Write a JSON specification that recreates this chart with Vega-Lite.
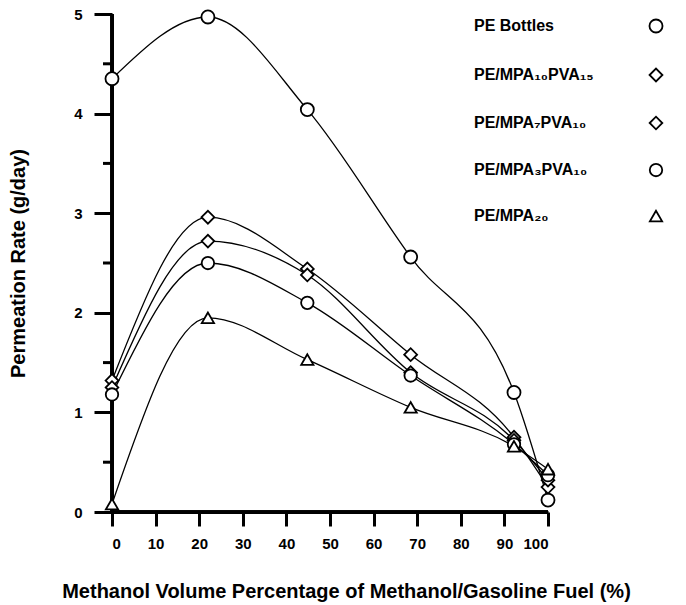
{
  "$schema": "https://vega.github.io/schema/vega-lite/v6.json",
  "width": 436,
  "height": 498,
  "autosize": {"type": "none"},
  "padding": {"left": 112, "top": 14, "right": 138, "bottom": 93},
  "background": "white",
  "config": {
    "view": {"stroke": null},
    "font": "Liberation Sans",
    "axis": {"grid": false, "domain": true, "ticks": true, "domainColor": "black", "tickColor": "black", "labelColor": "black", "titleColor": "black", "labelFont": "Liberation Sans", "titleFont": "Liberation Sans", "labelFontWeight": "bold", "titleFontWeight": "bold", "labelFontSize": 15, "titleFontSize": 20}
  },
  "datasets": {
    "rates": [
      {"series": "PE Bottles", "x": 0, "y": 4.35},
      {"series": "PE Bottles", "x": 22, "y": 4.97},
      {"series": "PE Bottles", "x": 44.8, "y": 4.04},
      {"series": "PE Bottles", "x": 68.5, "y": 2.56},
      {"series": "PE Bottles", "x": 92.2, "y": 1.2},
      {"series": "PE Bottles", "x": 100, "y": 0.12},
      {"series": "PE/MPA₁₀PVA₁₅", "x": 0, "y": 1.32},
      {"series": "PE/MPA₁₀PVA₁₅", "x": 22, "y": 2.96},
      {"series": "PE/MPA₁₀PVA₁₅", "x": 44.8, "y": 2.44},
      {"series": "PE/MPA₁₀PVA₁₅", "x": 68.5, "y": 1.58},
      {"series": "PE/MPA₁₀PVA₁₅", "x": 92.2, "y": 0.75},
      {"series": "PE/MPA₁₀PVA₁₅", "x": 100, "y": 0.25},
      {"series": "PE/MPA₇PVA₁₀", "x": 0, "y": 1.25},
      {"series": "PE/MPA₇PVA₁₀", "x": 22, "y": 2.72},
      {"series": "PE/MPA₇PVA₁₀", "x": 44.8, "y": 2.38},
      {"series": "PE/MPA₇PVA₁₀", "x": 68.5, "y": 1.4},
      {"series": "PE/MPA₇PVA₁₀", "x": 92.2, "y": 0.72},
      {"series": "PE/MPA₇PVA₁₀", "x": 100, "y": 0.32},
      {"series": "PE/MPA₃PVA₁₀", "x": 0, "y": 1.18},
      {"series": "PE/MPA₃PVA₁₀", "x": 22, "y": 2.5},
      {"series": "PE/MPA₃PVA₁₀", "x": 44.8, "y": 2.1},
      {"series": "PE/MPA₃PVA₁₀", "x": 68.5, "y": 1.37},
      {"series": "PE/MPA₃PVA₁₀", "x": 92.2, "y": 0.68},
      {"series": "PE/MPA₃PVA₁₀", "x": 100, "y": 0.37},
      {"series": "PE/MPA₂₀", "x": 0, "y": 0.08},
      {"series": "PE/MPA₂₀", "x": 22, "y": 1.95},
      {"series": "PE/MPA₂₀", "x": 44.8, "y": 1.53},
      {"series": "PE/MPA₂₀", "x": 68.5, "y": 1.05},
      {"series": "PE/MPA₂₀", "x": 92.2, "y": 0.66},
      {"series": "PE/MPA₂₀", "x": 100, "y": 0.43}
    ],
    "minorTicks": [{"v": 0.5}, {"v": 1.5}, {"v": 2.5}, {"v": 3.5}, {"v": 4.5}]
  },
  "layer": [
    {
      "data": {"name": "rates"},
      "mark": {"type": "line", "interpolate": "monotone", "color": "black", "strokeWidth": 1.3},
      "encoding": {
        "x": {"field": "x", "type": "quantitative", "scale": {"domain": [0, 100], "nice": false},
          "axis": {"values": [0,10,20,30,40,50,60,70,80,90,100], "format": "d", "domain": true, "domainColor": "black", "domainWidth": 3, "ticks": true, "tickColor": "black", "tickWidth": 3, "tickSize": 14, "labelPadding": 10, "title": "Methanol Volume Percentage of Methanol/Gasoline Fuel (%)", "titleX": 234, "titleAlign": "center", "titlePadding": 30}},
        "y": {"field": "y", "type": "quantitative", "scale": {"domain": [0, 5], "nice": false},
          "axis": {"values": [0,1,2,3,4,5], "format": "d", "domain": true, "domainColor": "black", "domainWidth": 3, "ticks": true, "tickColor": "black", "tickWidth": 3, "tickSize": 18, "labelPadding": 12, "title": "Permeation Rate (g/day)", "titlePadding": 45}},
        "detail": {"field": "series"}
      }
    },
    {
      "data": {"name": "minorTicks"},
      "mark": {"type": "rule", "color": "black", "strokeWidth": 3, "x2Offset": -9},
      "encoding": {"x": {"datum": 0}, "x2": {"datum": 0}, "y": {"field": "v", "type": "quantitative"}}
    },
    {
      "data": {"name": "minorTicks"},
      "mark": {"type": "rule", "color": "black", "strokeWidth": 3},
      "encoding": {"x": {"datum": 0}, "y": {"datum": 0}, "y2": {"datum": 5}}
    },
    {
      "data": {"name": "minorTicks"},
      "mark": {"type": "rule", "color": "black", "strokeWidth": 3},
      "encoding": {"x": {"datum": 0}, "x2": {"datum": 100}, "y": {"datum": 0}}
    },
    {
      "data": {"name": "rates"},
      "mark": {"type": "point", "filled": false, "fill": "white", "stroke": "black", "strokeWidth": 1.8, "opacity": 1},
      "encoding": {
        "x": {"field": "x", "type": "quantitative"},
        "y": {"field": "y", "type": "quantitative"},
        "shape": {"field": "series", "type": "nominal",
          "scale": {"domain": ["PE Bottles", "PE/MPA₁₀PVA₁₅", "PE/MPA₇PVA₁₀", "PE/MPA₃PVA₁₀", "PE/MPA₂₀"], "range": ["circle", "diamond", "diamond", "circle", "triangle-up"]},
          "legend": {"orient": "none", "legendX": 536, "legendY": 4, "title": null, "labelOffset": -190, "labelAlign": "left", "labelFont": "Liberation Sans", "labelFontWeight": "bold", "labelFontSize": 16, "labelColor": "black", "rowPadding": 27, "symbolStrokeColor": "black", "symbolStrokeWidth": 1.8, "symbolFillColor": "white", "labelLimit": 300}},
        "size": {"field": "series", "type": "nominal",
          "scale": {"domain": ["PE Bottles", "PE/MPA₁₀PVA₁₅", "PE/MPA₇PVA₁₀", "PE/MPA₃PVA₁₀", "PE/MPA₂₀"], "range": [170, 150, 70, 40, 140]}}
      }
    }
  ]
}
